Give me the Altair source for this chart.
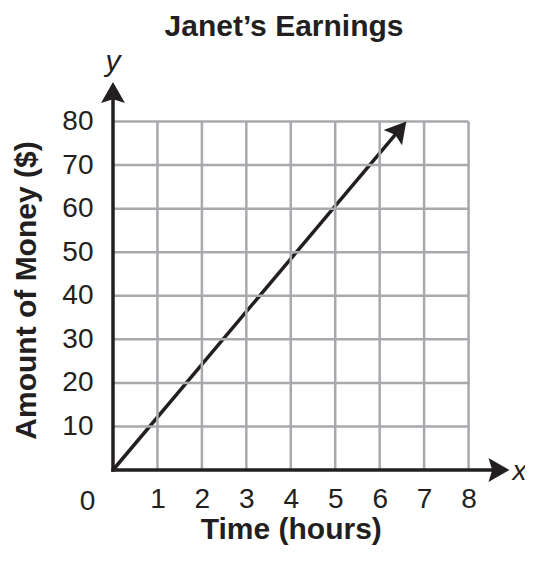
import math
import altair as alt
import pandas as pd

# ---- data ----
hours_ticks = [1, 2, 3, 4, 5, 6, 7, 8]
money_ticks = [10, 20, 30, 40, 50, 60, 70, 80]
line_hours = [0, 6.6]
line_money = [0, 80]
grid_x_max = 8
grid_y_max = 80
x_axis_tip = 8.92
y_axis_tip = 89.1

# ---- layout / style ----
W, H = 400, 392
XD, YD = [0, 9], [0, 90]
px_x = W / (XD[1] - XD[0])
px_y = H / (YD[1] - YD[0])
FONT = "Liberation Sans"
INK = "#231f20"
GRID = "#a7a9ac"
ARROW = "M0,0L-0.57,1L0,0.82L0.57,1Z"

xs = alt.Scale(domain=XD, nice=False, zero=False)
ys = alt.Scale(domain=YD, nice=False, zero=False)

x_axis_def = alt.Axis(values=hours_ticks, domain=False, ticks=False, grid=False,
                      labelFont=FONT, labelFontSize=28, labelColor=INK, labelPadding=15,
                      labelOverlap=False,
                      title="Time (hours)", titleFont=FONT, titleFontSize=30,
                      titleFontWeight="bold", titleColor=INK,
                      titleX=4 * px_x, titleY=68, titleBaseline="alphabetic")
y_axis_def = alt.Axis(values=money_ticks, domain=False, ticks=False, grid=False,
                      labelFont=FONT, labelFontSize=28, labelColor=INK, labelPadding=20,
                      labelOverlap=False,
                      title="Amount of Money ($)", titleFont=FONT, titleFontSize=30,
                      titleFontWeight="bold", titleColor=INK,
                      titleX=-78, titleY=212, titleBaseline="alphabetic")


def X(f):
    return alt.X(f, scale=xs, axis=x_axis_def)


def Y(f):
    return alt.Y(f, scale=ys, axis=y_axis_def)


vgrid_df = pd.DataFrame({"t": hours_ticks, "m0": [0] * len(hours_ticks),
                         "m1": [grid_y_max] * len(hours_ticks)})
hgrid_df = pd.DataFrame({"m": money_ticks, "t0": [0] * len(money_ticks),
                         "t1": [grid_x_max] * len(money_ticks)})

vgrid = alt.Chart(vgrid_df).mark_rule(color=GRID, strokeWidth=2.5).encode(
    x=X("t:Q"), y=Y("m0:Q"), y2="m1:Q")
hgrid = alt.Chart(hgrid_df).mark_rule(color=GRID, strokeWidth=2.5).encode(
    y=Y("m:Q"), x=X("t0:Q"), x2="t1:Q")

# axis shafts stop a few pixels short of the arrow tips
shaft_gap = 8
yaxis_df = pd.DataFrame({"t": [0], "m0": [0], "m1": [y_axis_tip - shaft_gap / px_y]})
xaxis_df = pd.DataFrame({"m": [0], "t0": [0], "t1": [x_axis_tip - shaft_gap / px_x]})
yaxis = alt.Chart(yaxis_df).mark_rule(color=INK, strokeWidth=3.5, strokeCap="square").encode(
    x=X("t:Q"), y=Y("m0:Q"), y2="m1:Q")
xaxis = alt.Chart(xaxis_df).mark_rule(color=INK, strokeWidth=3.5, strokeCap="square").encode(
    y=Y("m:Q"), x=X("t0:Q"), x2="t1:Q")

dx_px = (line_hours[1] - line_hours[0]) * px_x
dy_px = (line_money[1] - line_money[0]) * px_y
diag_angle = math.degrees(math.atan2(dx_px, dy_px))
frac = 1 - shaft_gap / math.hypot(dx_px, dy_px)
line_df = pd.DataFrame({"t": [line_hours[0], line_hours[0] + (line_hours[1] - line_hours[0]) * frac],
                        "m": [line_money[0], line_money[0] + (line_money[1] - line_money[0]) * frac]})

line = alt.Chart(line_df).mark_line(color=INK, strokeWidth=3.5).encode(
    x=X("t:Q"), y=Y("m:Q"))

arrows_df = pd.DataFrame({"t": [0, x_axis_tip, line_hours[1]],
                          "m": [y_axis_tip, 0, line_money[1]],
                          "ang": [0, 90, diag_angle]})
arrows = alt.Chart(arrows_df).mark_point(shape=ARROW, filled=True, size=1764, color=INK,
                                         opacity=1, strokeWidth=0).encode(
    x=X("t:Q"), y=Y("m:Q"), angle=alt.Angle("ang:Q", scale=None))

zero_df = pd.DataFrame({"t": [0], "m": [0], "lab": ["0"]})
zero = alt.Chart(zero_df).mark_text(font=FONT, fontSize=28, color=INK, dx=-25.5, dy=32).encode(
    x=X("t:Q"), y=Y("m:Q"), text="lab:N")

ylab_df = pd.DataFrame({"t": [0], "m": [y_axis_tip], "lab": ["y"]})
ylab = alt.Chart(ylab_df).mark_text(font=FONT, fontSize=30, fontStyle="italic", color=INK,
                                    baseline="alphabetic", dy=-10.5).encode(
    x=X("t:Q"), y=Y("m:Q"), text="lab:N")
xlab_df = pd.DataFrame({"t": [x_axis_tip], "m": [0], "lab": ["x"]})
xlab = alt.Chart(xlab_df).mark_text(font=FONT, fontSize=28, fontStyle="italic", color=INK,
                                    baseline="alphabetic", dx=10, dy=10).encode(
    x=X("t:Q"), y=Y("m:Q"), text="lab:N")

chart = alt.layer(line, vgrid, hgrid, yaxis, xaxis, arrows, zero, ylab, xlab).properties(
    width=W, height=H,
    title=alt.TitleParams("Janet’s Earnings", font=FONT, fontSize=30, fontWeight="bold",
                          color=INK, frame="group", anchor="middle", dx=-29, offset=5),
    autosize=alt.AutoSizeParams(type="none"),
    padding={"left": 105, "top": 70, "right": 12, "bottom": 80},
).configure_view(stroke=None)

chart.save("out.html", embed_options={"renderer": "svg", "actions": False})
